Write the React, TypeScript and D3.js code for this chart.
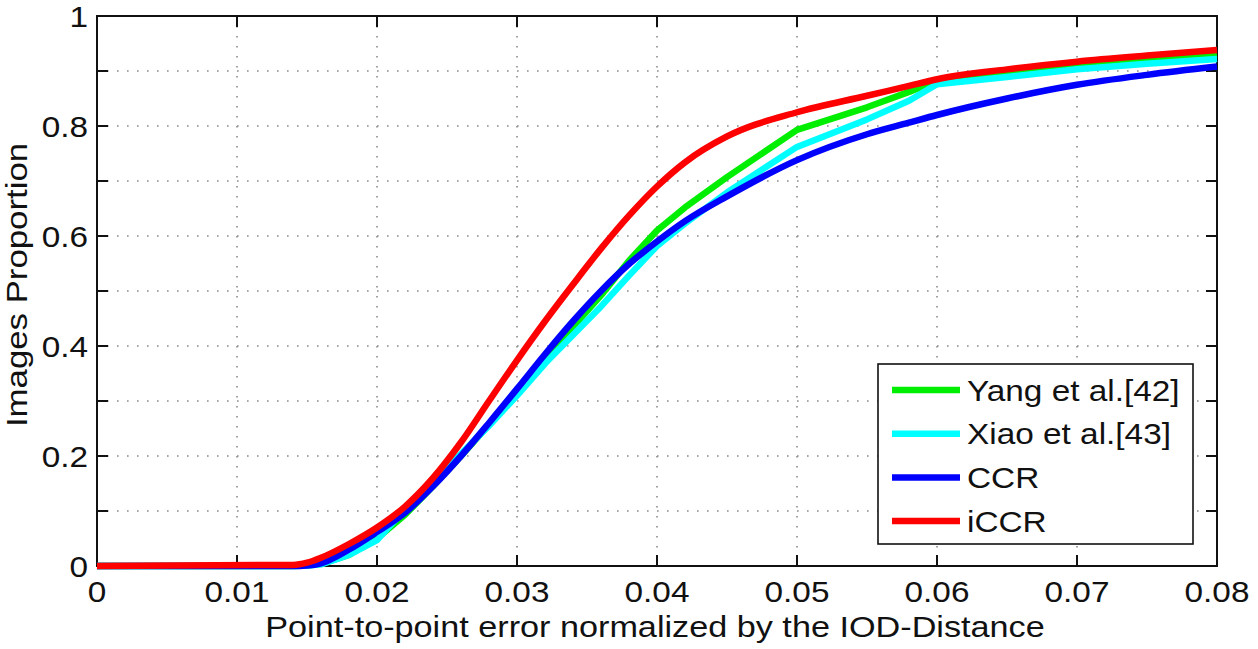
import { scaleLinear, line, curveMonotoneX, curveLinear, range } from "d3";

const xs = [0, 0.014, 0.015, 0.016, 0.018, 0.02, 0.022, 0.024, 0.026, 0.028, 0.03, 0.032, 0.034, 0.036, 0.038, 0.04, 0.042, 0.045, 0.05, 0.055, 0.058, 0.06, 0.065, 0.07, 0.075, 0.08];
const yang = [0, 0, 0.001, 0.004, 0.02, 0.05, 0.093, 0.145, 0.2, 0.257, 0.315, 0.375, 0.435, 0.492, 0.555, 0.61, 0.652, 0.707, 0.793, 0.834, 0.862, 0.882, 0.897, 0.909, 0.919, 0.929];
const xiao = [0, 0, 0.001, 0.003, 0.02, 0.047, 0.103, 0.153, 0.204, 0.255, 0.31, 0.368, 0.42, 0.472, 0.528, 0.582, 0.623, 0.679, 0.762, 0.812, 0.846, 0.876, 0.889, 0.903, 0.913, 0.922];
const ccr = [0, 0, 0.001, 0.005, 0.03, 0.062, 0.097, 0.145, 0.2, 0.26, 0.322, 0.385, 0.445, 0.5, 0.549, 0.59, 0.627, 0.672, 0.738, 0.785, 0.806, 0.82, 0.85, 0.875, 0.893, 0.908];
const iccr = [0, 0.002, 0.006, 0.015, 0.04, 0.07, 0.108, 0.16, 0.225, 0.3, 0.374, 0.445, 0.512, 0.577, 0.637, 0.69, 0.734, 0.781, 0.825, 0.855, 0.873, 0.885, 0.903, 0.917, 0.928, 0.938];

const seriesNames = ["Yang et al.[42]", "Xiao et al.[43]", "CCR", "iCCR"];
const seriesColors = ["#00ee00", "#00ffff", "#0000ff", "#ff0000"];
const seriesValues = [yang, xiao, ccr, iccr];
const seriesSmooth = [false, false, true, true];

const xTicks = range(0, 9).map((i) => i / 100);
const xTickLabels = ["0", "0.01", "0.02", "0.03", "0.04", "0.05", "0.06", "0.07", "0.08"];
const yTicks = range(0, 11).map((i) => i / 10);
const yTickLabels = ["0", "", "0.2", "", "0.4", "", "0.6", "", "0.8", "", "1"];

const W = 1258;
const H = 649;
const PLOT = { left: 97, right: 1217, top: 16, bottom: 566 };
const FONT = "'Liberation Sans', Arial, sans-serif";
const FS = 29;
const SX = 1.15;
const TICK = 11;

export default function App() {
  const x = scaleLinear().domain([0, 0.08]).range([PLOT.left, PLOT.right]);
  const y = scaleLinear().domain([0, 1]).range([PLOT.bottom, PLOT.top]);

  const path = (vals: number[], smooth: boolean) =>
    line<number>()
      .x((_, i) => x(xs[i]))
      .y((v) => y(v))
      .curve(smooth ? curveMonotoneX : curveLinear)(vals) ?? "";

  const legend = { x: 878, y: 364, w: 315, h: 180, row0: 390, rowGap: 43.7 };

  return (
    <>
      <style>{"body{margin:0}"}</style>
      <svg width={W} height={H} viewBox={`0 0 ${W} ${H}`} style={{ display: "block", background: "#fff" }} fontFamily={FONT}>
        {/* grid */}
        {xTicks.slice(1, -1).map((t) => (
          <line key={"gx" + t} x1={x(t)} x2={x(t)} y1={PLOT.top} y2={PLOT.bottom} stroke="#8a8a8a" strokeWidth={1.6} strokeDasharray="1.6 8.4" />
        ))}
        {yTicks.slice(1, -1).map((t) => (
          <line key={"gy" + t} x1={PLOT.left} x2={PLOT.right} y1={y(t)} y2={y(t)} stroke="#8a8a8a" strokeWidth={1.6} strokeDasharray="1.6 8.4" />
        ))}

        {/* frame + ticks */}
        <rect x={PLOT.left} y={PLOT.top} width={PLOT.right - PLOT.left} height={PLOT.bottom - PLOT.top} fill="none" stroke="#111" strokeWidth={2} />
        {xTicks.map((t) => (
          <g key={"tx" + t} stroke="#111" strokeWidth={2}>
            <line x1={x(t)} x2={x(t)} y1={PLOT.bottom} y2={PLOT.bottom - TICK} />
            <line x1={x(t)} x2={x(t)} y1={PLOT.top} y2={PLOT.top + TICK} />
          </g>
        ))}
        {yTicks.map((t) => (
          <g key={"ty" + t} stroke="#111" strokeWidth={2}>
            <line x1={PLOT.left} x2={PLOT.left + TICK} y1={y(t)} y2={y(t)} />
            <line x1={PLOT.right} x2={PLOT.right - TICK} y1={y(t)} y2={y(t)} />
          </g>
        ))}

        {/* curves */}
        {seriesValues.map((vals, i) => (
          <path key={seriesNames[i]} d={path(vals, seriesSmooth[i])} fill="none" stroke={seriesColors[i]} strokeWidth={6.5} strokeLinejoin="round" />
        ))}

        {/* tick labels */}
        {xTicks.map((t, i) => (
          <text key={"lx" + t} transform={`translate(${x(t)},602) scale(${SX},1)`} textAnchor="middle" fontSize={FS} fill="#111">
            {xTickLabels[i]}
          </text>
        ))}
        {yTicks.map((t, i) =>
          yTickLabels[i] ? (
            <text key={"ly" + t} transform={`translate(88,${y(t) + 10.5}) scale(${SX},1)`} textAnchor="end" fontSize={FS} fill="#111">
              {yTickLabels[i]}
            </text>
          ) : null
        )}

        {/* axis titles */}
        <text transform={`translate(655,637) scale(1.18,1)`} textAnchor="middle" fontSize={FS} fill="#111">
          Point-to-point error normalized by the IOD-Distance
        </text>
        <text transform={`translate(27,285) rotate(-90) scale(1.2,1)`} textAnchor="middle" fontSize={FS} fill="#111">
          Images Proportion
        </text>

        {/* legend */}
        <rect x={legend.x} y={legend.y} width={legend.w} height={legend.h} fill="#fff" stroke="#111" strokeWidth={1.6} />
        {seriesNames.map((name, i) => {
          const cy = legend.row0 + i * legend.rowGap;
          return (
            <g key={"lg" + name}>
              <line x1={892} x2={960} y1={cy} y2={cy} stroke={seriesColors[i]} strokeWidth={6.5} />
              <text transform={`translate(967,${cy + 10.5}) scale(${SX},1)`} fontSize={FS} fill="#111">
                {name}
              </text>
            </g>
          );
        })}
      </svg>
    </>
  );
}
